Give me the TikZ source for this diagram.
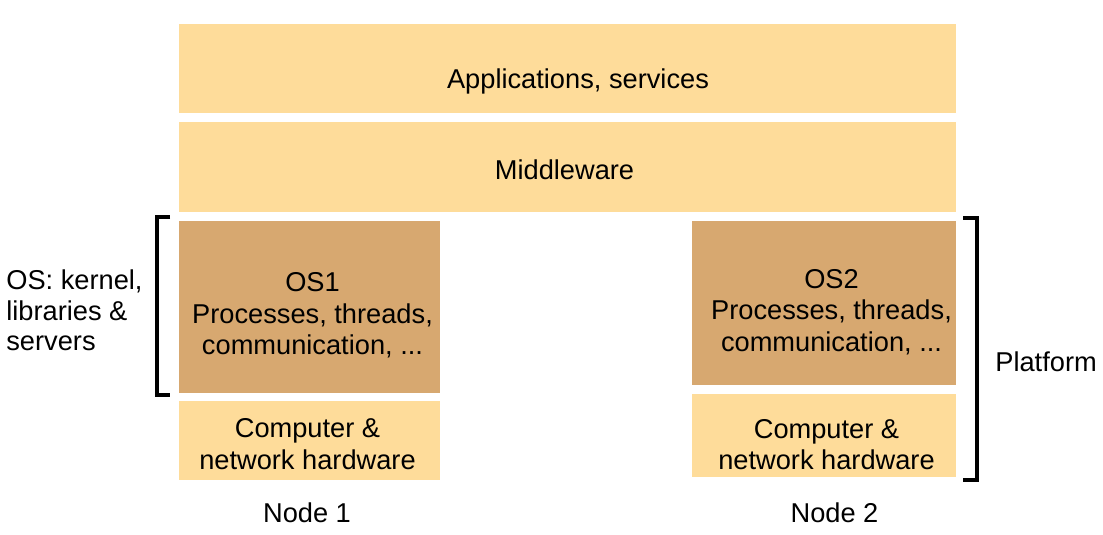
\documentclass[tikz,border=0pt]{standalone}
\usepackage{fontspec}
\setmainfont{Liberation Sans}
\usepackage{tikz}
\usetikzlibrary{positioning}
\usepackage{xcolor}
\definecolor{layerlight}{RGB}{254,220,154}
\definecolor{layerdark}{RGB}{215,168,112}
\tikzstyle{layer} = [rectangle, fill=layerlight, inner sep=0pt]
\tikzstyle{oslayer} = [layer, fill=layerdark]
\tikzstyle{label} = [inner sep=0pt, align=center, font=\fontsize{15.5}{18}\selectfont]
\tikzstyle{bracket} = [line width=0.08cm]

\begin{document}
\begin{tikzpicture}
\useasboundingbox (0,0) rectangle (22.06,10.68);
% Shared layers
\node[layer, minimum width=15.54cm, minimum height=1.78cm] (apps) at (11.35,9.31) {};
\node[layer, minimum width=15.54cm, minimum height=1.80cm] (middleware) at (11.35,7.34) {};
\node[label] (appstext) at (11.56,9.06) {Applications, services};
\node[label] (middlewaretext) at (11.29,7.28) {Middleware};

% Node 1 stack
\node[oslayer, minimum width=5.22cm, minimum height=3.44cm] (os1) at (6.19,4.54) {};
\node[layer, minimum width=5.22cm, minimum height=1.58cm] (hw1) at (6.19,1.87) {};
\node[label] (os1text) at (6.25,4.37) {OS1\\Processes, threads,\\communication, ...};
\node[label] (hw1text) at (6.15,1.80) {Computer \&\\network hardware};

% Node 2 stack
\node[oslayer, minimum width=5.28cm, minimum height=3.28cm] (os2) at (16.48,4.62) {};
\node[layer, minimum width=5.28cm, minimum height=1.66cm] (hw2) at (16.48,1.97) {};
\node[label] (os2text) at (16.63,4.44) {OS2\\Processes, threads,\\communication, ...};
\node[label] (hw2text) at (16.53,1.79) {Computer \&\\network hardware};

% Brackets
\draw[bracket] (3.40,6.34) -- (3.14,6.34) -- (3.14,2.78) -- (3.40,2.78);
\draw[bracket] (19.26,6.32) -- (19.54,6.32) -- (19.54,1.08) -- (19.26,1.08);

% Side and bottom labels
\node[label, anchor=west, align=left, font=\fontsize{15.5}{17.5}\selectfont] (oslabel) at (0.12,4.47) {OS: kernel,\\libraries \&\\servers};
\node[label, anchor=west] (platform) at (19.90,3.45) {Platform};
\node[label] (node1) at (6.14,0.42) {Node 1};
\node[label] (node2) at (16.69,0.42) {Node 2};
\end{tikzpicture}
\end{document}
